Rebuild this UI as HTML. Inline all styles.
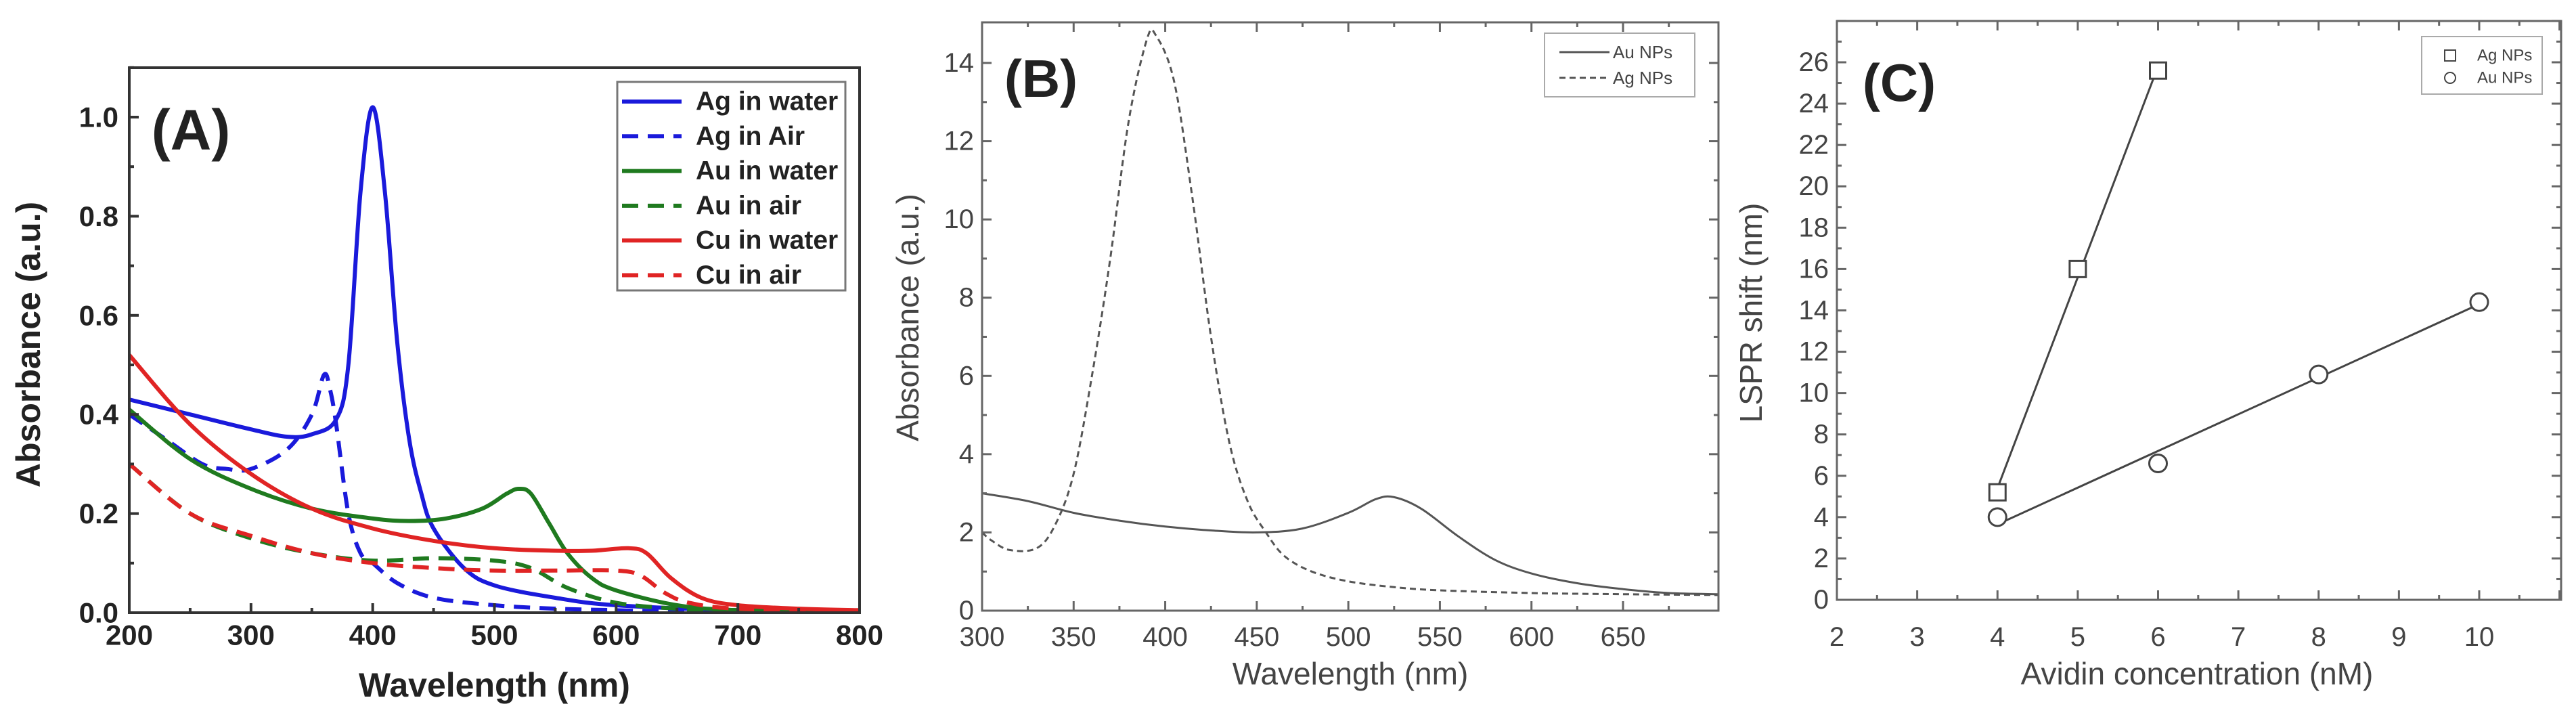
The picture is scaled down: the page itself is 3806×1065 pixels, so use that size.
<!DOCTYPE html>
<html><head><meta charset="utf-8">
<style>
html,body{margin:0;padding:0;background:#fff;overflow:hidden;}
svg{display:block;}
.bA{font-family:"Liberation Sans",sans-serif;font-weight:bold;fill:#222;}
.nB{font-family:"Liberation Sans",sans-serif;fill:#444;}
</style></head>
<body>
<svg id="fig" width="3806" height="1065" viewBox="0 0 3806 1065" xmlns="http://www.w3.org/2000/svg"></svg>
<script>
// ---- Panel A data ----
const aX_agW=[200,250,300,330,350,370,380,390,400,410,420,430,440,450,475,500,550,600,700,800];
const aY_agW=[0.43,0.40,0.37,0.355,0.36,0.39,0.5,0.85,1.02,0.85,0.55,0.35,0.24,0.17,0.09,0.055,0.03,0.015,0.005,0.002];
const aX_agA=[200,230,260,280,300,330,350,360,365,370,380,390,400,420,450,500,550,600,650,800];
const aY_agA=[0.40,0.35,0.30,0.29,0.29,0.33,0.40,0.48,0.45,0.38,0.20,0.12,0.10,0.06,0.03,0.015,0.008,0.005,0.002,0.0];
const aX_auW=[200,250,300,350,400,430,460,490,510,520,530,545,560,580,600,650,700,800];
const aY_auW=[0.41,0.31,0.25,0.21,0.19,0.185,0.19,0.21,0.24,0.25,0.24,0.18,0.12,0.07,0.045,0.015,0.005,0.0];
const aX_auA=[200,250,300,350,400,450,500,530,560,600,650,700,800];
const aY_auA=[0.30,0.20,0.15,0.12,0.105,0.11,0.105,0.09,0.05,0.02,0.008,0.003,0.0];
const aX_cuW=[200,250,300,350,400,450,500,550,580,610,625,645,670,700,750,800];
const aY_cuW=[0.52,0.38,0.28,0.21,0.17,0.145,0.13,0.125,0.125,0.13,0.12,0.07,0.03,0.015,0.008,0.005];
const aX_cuA=[200,250,300,350,400,450,500,550,600,620,640,660,700,800];
const aY_cuA=[0.30,0.20,0.155,0.12,0.10,0.09,0.085,0.085,0.085,0.075,0.04,0.02,0.008,0.003];
const aXTicks=[200,300,400,500,600,700,800];
const aYTicks=[0.0,0.2,0.4,0.6,0.8,1.0];
// ---- Panel B data ----
const bX_au=[300,325,350,375,400,425,450,475,500,515,525,540,560,580,600,625,650,675,702];
const bY_au=[3.0,2.8,2.5,2.3,2.15,2.05,2.0,2.1,2.5,2.85,2.9,2.6,1.9,1.3,0.95,0.7,0.55,0.45,0.42];
const bX_ag=[300,305,315,330,340,350,360,370,380,390,395,405,415,425,435,445,455,465,480,500,525,550,600,650,702];
const bY_ag=[2.0,1.8,1.55,1.6,2.2,3.5,6.0,9.0,12.5,14.6,14.7,13.5,10.5,7.0,4.3,2.8,2.0,1.4,1.0,0.75,0.6,0.52,0.45,0.42,0.4];
const bXTicks=[300,350,400,450,500,550,600,650];
const bYTicks=[0,2,4,6,8,10,12,14];
// ---- Panel C data ----
const cX_ag=[4,5,6];
const cY_ag=[5.2,16,25.6];
const cX_au=[4,6,8,10];
const cY_au=[4,6.6,10.9,14.4];
const cXTicks=[2,3,4,5,6,7,8,9,10];
const cYTicks=[0,2,4,6,8,10,12,14,16,18,20,22,24,26];

const NS="http://www.w3.org/2000/svg";
const svg=document.getElementById('fig');
function mk(tag,attrs,parent){const e=document.createElementNS(NS,tag);for(const k in attrs)e.setAttribute(k,attrs[k]);(parent||svg).appendChild(e);return e;}
function scale(d0,d1,r0,r1){return v=>r0+(v-d0)*(r1-r0)/(d1-d0);}
function smooth(pts){let d='M'+pts[0][0].toFixed(1)+','+pts[0][1].toFixed(1);
 for(let i=0;i<pts.length-1;i++){const p0=pts[i-1]||pts[i],p1=pts[i],p2=pts[i+1],p3=pts[i+2]||p2;
  const c1=[p1[0]+(p2[0]-p0[0])/6,p1[1]+(p2[1]-p0[1])/6],c2=[p2[0]-(p3[0]-p1[0])/6,p2[1]-(p3[1]-p1[1])/6];
  d+=' C'+c1.map(v=>v.toFixed(1))+' '+c2.map(v=>v.toFixed(1))+' '+p2[0].toFixed(1)+','+p2[1].toFixed(1);}
 return d;}
function frame(L,T,R,B,col,w){const r=mk('rect',{x:L,y:T,width:R-L,height:B-T,fill:'none',stroke:col,'stroke-width':w});
 
 }
function ticks(sx,sy,L,T,R,B,xs,ys,xminor,yminor,len,col,w,both){
 const g=mk('g',{stroke:col,'stroke-width':w});
 
 
 xs.forEach(v=>{const x=sx(v);mk('line',{x1:x,y1:B,x2:x,y2:B-len},g);if(both)mk('line',{x1:x,y1:T,x2:x,y2:T+len},g);});
 xminor.forEach(v=>{const x=sx(v);mk('line',{x1:x,y1:B,x2:x,y2:B-len/2},g);if(both)mk('line',{x1:x,y1:T,x2:x,y2:T+len/2},g);});
 ys.forEach(v=>{const y=sy(v);mk('line',{x1:L,y1:y,x2:L+len,y2:y},g);if(both)mk('line',{x1:R,y1:y,x2:R-len,y2:y},g);});
 yminor.forEach(v=>{const y=sy(v);mk('line',{x1:L,y1:y,x2:L+len/2,y2:y},g);if(both)mk('line',{x1:R,y1:y,x2:R-len/2,y2:y},g);});}
function txt(s,x,y,cls,size,anchor,name,extra){const t=mk('text',Object.assign({x:x,y:y,class:cls,'font-size':size,'text-anchor':anchor||'middle','dominant-baseline':'central'},extra||{}));t.textContent=s;
 
 return t;}

// ===== Panel A =====
{const L=191,R=1270,T=100,B=905;
 const sx=scale(200,800,L,R), sy=scale(0,1.0,B,173);
 const series=[[aX_agW,aY_agW,'#1a1adb',null,'ag-in-water-line'],[aX_agA,aY_agA,'#1a1adb','24 14','ag-in-air-line'],
  [aX_auW,aY_auW,'#1f7a1f',null,'au-in-water-line'],[aX_auA,aY_auA,'#1f7a1f','24 14','au-in-air-line'],
  [aX_cuW,aY_cuW,'#e02424',null,'cu-in-water-line'],[aX_cuA,aY_cuA,'#e02424','24 14','cu-in-air-line']];
 const clip=mk('clipPath',{id:'clipA'});mk('rect',{x:L,y:T,width:R-L,height:B-T},clip);
 series.forEach(s=>{const p=mk('path',{d:smooth(s[0].map((v,i)=>[sx(v),sy(s[1][i])])),fill:'none',stroke:s[2],'stroke-width':6,'clip-path':'url(#clipA)'});
  if(s[3])p.setAttribute('stroke-dasharray',s[3]);
  
  });
 frame(L,T,R,B,'#333',4);
 const xm=[],ym=[];for(let v=250;v<800;v+=100)xm.push(v);for(let v=0.1;v<1.1;v+=0.2)ym.push(v);
 ticks(sx,sy,L,T,R,B,aXTicks,aYTicks,xm,ym,14,'#333',4,false);
 aXTicks.forEach(v=>txt(String(v),sx(v),938,'bA',42,'middle','x-tick-label'));
 aYTicks.forEach(v=>txt(v.toFixed(1),L-16,sy(v),'bA',42,'end','y-tick-label'));
 txt('Wavelength (nm)',(L+R)/2,1012,'bA',50,'middle','x-axis-title');
 txt('Absorbance (a.u.)',42,509,'bA',50,'middle','y-axis-title',{transform:'rotate(-90 42 509)'});
 txt('(A)',282,192,'bA',84,'middle','panel-label-a');
 const lg=mk('rect',{x:912,y:121,width:337,height:308,fill:'#fff',stroke:'#777','stroke-width':3});
 
 
 const names=['Ag in water','Ag in Air','Au in water','Au in air','Cu in water','Cu in air'];
 names.forEach((n,i)=>{const y=150+i*51.3;const s=series[i];
  const l=mk('line',{x1:919,y1:y,x2:1007,y2:y,stroke:s[2],'stroke-width':6});if(s[3])l.setAttribute('stroke-dasharray','24 14');
  
  
  txt(n,1028,y,'bA',39,'start','legend-entry');});
}
// ===== Panel B =====
{const L=1451,R=2539,T=33,B=902;
 const sx=scale(300,650,L,2398), sy=scale(0,14,B,93);
 const clip=mk('clipPath',{id:'clipB'});mk('rect',{x:L,y:T,width:R-L,height:B-T},clip);
 const p1=mk('path',{d:smooth(bX_au.map((v,i)=>[sx(v),sy(bY_au[i])])),fill:'none',stroke:'#555','stroke-width':3,'clip-path':'url(#clipB)'});
 
 
 const p2=mk('path',{d:smooth(bX_ag.map((v,i)=>[sx(v),sy(bY_ag[i])])),fill:'none',stroke:'#555','stroke-width':3,'stroke-dasharray':'9 6','clip-path':'url(#clipB)'});
 
 
 frame(L,T,R,B,'#666',3);
 const xm=[],ym=[];for(let v=325;v<700;v+=50)xm.push(v);for(let v=1;v<15;v+=2)ym.push(v);
 ticks(sx,sy,L,T,R,B,bXTicks,bYTicks,xm,ym,14,'#666',3,true);
 bXTicks.forEach(v=>txt(String(v),sx(v),941,'nB',40,'middle','x-tick-label'));
 bYTicks.forEach(v=>txt(String(v),L-12,sy(v),'nB',40,'end','y-tick-label'));
 txt('Wavelength (nm)',(L+R)/2,995,'nB',46,'middle','x-axis-title');
 txt('Absorbance (a.u.)',1341,469,'nB',46,'middle','y-axis-title',{transform:'rotate(-90 1341 469)'});
 txt('(B)',1538,116,'bA',78,'middle','panel-label-b');
 const lg=mk('rect',{x:2282,y:49,width:222,height:94,fill:'#fff',stroke:'#aaa','stroke-width':2});
 
 
 const l1=mk('line',{x1:2304,y1:77,x2:2378,y2:77,stroke:'#555','stroke-width':3});
 
 
 const l2=mk('line',{x1:2304,y1:115,x2:2378,y2:115,stroke:'#555','stroke-width':3,'stroke-dasharray':'9 6'});
 
 
 txt('Au NPs',2383,77,'nB',26,'start','legend-entry');
 txt('Ag NPs',2383,115,'nB',26,'start','legend-entry');
}
// ===== Panel C =====
{const L=2714,R=3784,T=31,B=886;
 const sx=scale(2,10,L,3663), sy=scale(0,26,B,92);
 function fit(xs,ys){const n=xs.length,mx=xs.reduce((a,b)=>a+b)/n,my=ys.reduce((a,b)=>a+b)/n;let sxy=0,sxx=0;xs.forEach((x,i)=>{sxy+=(x-mx)*(ys[i]-my);sxx+=(x-mx)*(x-mx);});const m=sxy/sxx;return [m,my-m*mx];}
 [[cX_ag,cY_ag,'ag-fit-line'],[cX_au,cY_au,'au-fit-line']].forEach(s=>{const f=fit(s[0],s[1]);const x0=s[0][0],x1=s[0][s[0].length-1];
  const l=mk('line',{x1:sx(x0),y1:sy(f[0]*x0+f[1]),x2:sx(x1),y2:sy(f[0]*x1+f[1]),stroke:'#444','stroke-width':3});
  
  });
 cX_ag.forEach((v,i)=>{const r=mk('rect',{x:sx(v)-12,y:sy(cY_ag[i])-12,width:24,height:24,fill:'#fff',stroke:'#444','stroke-width':3});
  
  });
 cX_au.forEach((v,i)=>{const c=mk('circle',{cx:sx(v),cy:sy(cY_au[i]),r:13,fill:'#fff',stroke:'#444','stroke-width':3});
  
  });
 frame(L,T,R,B,'#666',3);
 const xm=[],ym=[];for(let v=2.5;v<11;v+=1)xm.push(v);for(let v=1;v<28;v+=2)ym.push(v);
 ticks(sx,sy,L,T,R,B,cXTicks.concat([11]),cYTicks.concat([28]),xm,ym,14,'#666',3,true);
 cXTicks.forEach(v=>txt(String(v),sx(v),941,'nB',40,'middle','x-tick-label'));
 cYTicks.forEach(v=>txt(String(v),L-12,sy(v),'nB',40,'end','y-tick-label'));
 txt('Avidin concentration (nM)',3246,995,'nB',46,'middle','x-axis-title');
 txt('LSPR shift (nm)',2587,462,'nB',46,'middle','y-axis-title',{transform:'rotate(-90 2587 462)'});
 txt('(C)',2806,122,'bA',78,'middle','panel-label-c');
 const lg=mk('rect',{x:3578,y:54,width:178,height:85,fill:'#fff',stroke:'#aaa','stroke-width':2});
 
 
 const s1=mk('rect',{x:3612,y:74,width:16,height:16,fill:'#fff',stroke:'#444','stroke-width':2});
 
 
 const s2=mk('circle',{cx:3620,cy:115,r:8,fill:'#fff',stroke:'#444','stroke-width':2});
 
 
 txt('Ag NPs',3660,82,'nB',24,'start','legend-entry');
 txt('Au NPs',3660,115,'nB',24,'start','legend-entry');
}
</script>
</body></html>
